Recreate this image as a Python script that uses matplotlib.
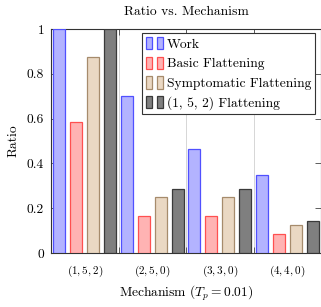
import numpy as np
import matplotlib
matplotlib.use("Agg")
import matplotlib.pyplot as plt
from matplotlib.patches import Patch
from matplotlib.legend_handler import HandlerTuple

plt.rcParams['font.family'] = 'serif'
plt.rcParams['font.serif'] = ['cmr10', 'DejaVu Serif']
plt.rcParams['mathtext.fontset'] = 'cm'
plt.rcParams['axes.formatter.use_mathtext'] = True

# data
mechanisms = ['(1, 5, 2)', '(2, 5, 0)', '(3, 3, 0)', '(4, 4, 0)']
work = [1.0, 0.70, 0.466, 0.35]
basic = [0.583, 0.167, 0.167, 0.083]
symptomatic = [0.875, 0.25, 0.25, 0.125]
flat152 = [1.0, 0.286, 0.286, 0.143]
series_names = ['Work', 'Basic Flattening', 'Symptomatic Flattening',
                '(1, 5, 2) Flattening']
yticks = [0, 0.2, 0.4, 0.6, 0.8, 1]
ytick_labels = ['0', '0.2', '0.4', '0.6', '0.8', '1']

fills = ['#b3b3ff', '#ffb3b3', '#ead8c3', '#7f7f7f']
edges = ['#5050ff', '#ff5050', '#a68b6c', '#3a3a3a']

fs = 9.7

fig = plt.figure(figsize=(3.21, 3.07), dpi=100)
ax = fig.add_axes([51 / 321, 54 / 307, 270 / 321, 224 / 307])

x = np.arange(len(mechanisms)) + 0.5
width = 0.177
handles = []
for k, vals in enumerate([work, basic, symptomatic, flat152]):
    off = (k - 1.5) * 0.25
    ax.bar(x + off, vals, width, color=fills[k], edgecolor=edges[k],
           linewidth=0.9, zorder=3)
    p = Patch(facecolor=fills[k], edgecolor=edges[k], linewidth=0.9)
    handles.append((p, p))

ax.set_xlim(0, 4)
ax.set_ylim(0, 1)
ax.set_xticks([0, 1, 2, 3, 4])
ax.set_xticklabels([])
ax.set_xticks(x, minor=True)
ax.set_xticklabels(['$' + m + '$' for m in mechanisms], minor=True, fontsize=8)
ax.tick_params(axis='x', which='minor', length=0, pad=8)
ax.tick_params(axis='x', which='major', direction='in', length=4,
               top=True, color='#444444', width=0.6)
ax.set_yticks(yticks)
ax.set_yticklabels(ytick_labels, fontsize=fs)
ax.tick_params(axis='y', direction='in', length=4, right=True,
               color='#444444', width=0.6, pad=5)
ax.grid(axis='x', which='major', color='#d0d0d0', linewidth=0.6, zorder=0)

for s in ax.spines.values():
    s.set_color('#333333')
    s.set_linewidth(0.8)

ax.set_title('Ratio vs. Mechanism', fontsize=fs, pad=10)
ax.set_ylabel('Ratio', fontsize=fs, labelpad=5)
ax.set_xlabel('Mechanism ($T_p = 0.01$)', fontsize=fs, labelpad=3)

leg = ax.legend(handles, series_names, handler_map={tuple: HandlerTuple(ndivide=None, pad=0.3)},
                loc='upper right', bbox_to_anchor=(0.978, 0.982), fontsize=fs,
                frameon=True, fancybox=False, edgecolor='#333333', framealpha=1,
                handlelength=1.2, handleheight=1.0, handletextpad=0.3,
                labelspacing=0.45, borderpad=0.3, borderaxespad=0)
leg.get_frame().set_linewidth(0.8)

fig.savefig('out.png', dpi=100)
